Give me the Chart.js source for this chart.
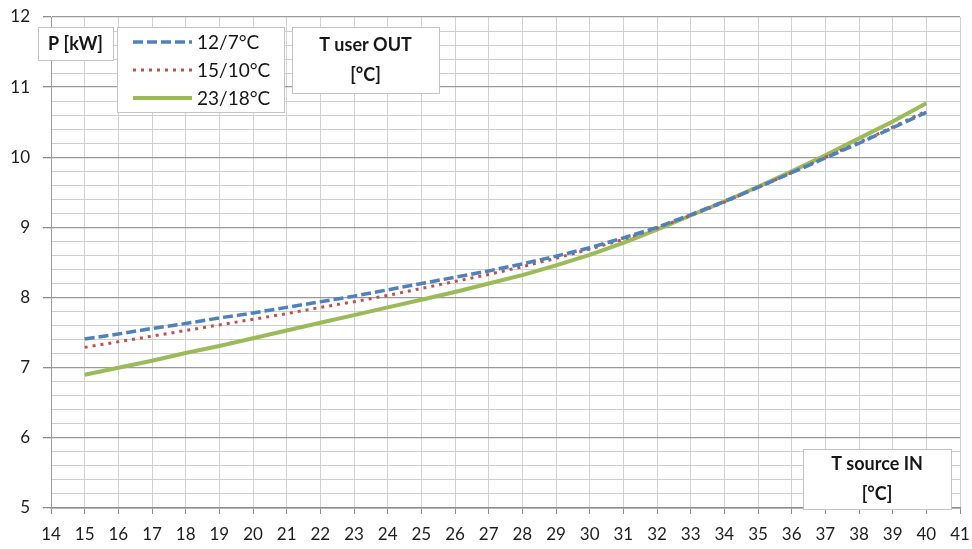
<!DOCTYPE html>
<html>
<head>
<meta charset="utf-8">
<script src="https://cdn.jsdelivr.net/npm/chart.js@4.4.1/dist/chart.umd.min.js"></script>
<style>
  html, body { margin: 0; padding: 0; background: #fff; }
  #wrap { width: 972px; height: 549px; position: relative; }
</style>
</head>
<body>
<div id="wrap"><canvas id="c" width="972" height="549"></canvas></div>
<script>
// ---- data ----
const tSourceIn = [15, 16, 17, 18, 19, 20, 21, 22, 23, 24, 25, 26, 27, 28, 29, 30, 31, 32, 33, 34, 35, 36, 37, 38, 39, 40];
const p12_7  = [7.41, 7.48, 7.56, 7.63, 7.71, 7.78, 7.86, 7.94, 8.02, 8.11, 8.20, 8.29, 8.38, 8.48, 8.59, 8.71, 8.85, 9.00, 9.18, 9.37, 9.57, 9.78, 9.99, 10.20, 10.42, 10.64];
const p15_10 = [7.29, 7.37, 7.45, 7.53, 7.61, 7.69, 7.77, 7.86, 7.94, 8.03, 8.13, 8.23, 8.33, 8.44, 8.56, 8.69, 8.83, 8.99, 9.17, 9.36, 9.57, 9.78, 10.00, 10.21, 10.43, 10.66];
const p23_18 = [6.90, 7.00, 7.10, 7.21, 7.31, 7.42, 7.53, 7.64, 7.75, 7.86, 7.97, 8.08, 8.20, 8.32, 8.46, 8.61, 8.78, 8.97, 9.17, 9.37, 9.58, 9.80, 10.03, 10.27, 10.51, 10.77];
const seriesNames = ['12/7°C', '15/10°C', '23/18°C'];
const yAxisTitle = ['P [kW]'];
const legendTitle = ['T user OUT', '[°C]'];
const xAxisTitle = ['T source IN', '[°C]'];
const xRange = [14, 41];
const yRange = [5, 12];

function pts(ys) { return tSourceIn.map((x, i) => ({ x: x, y: ys[i] })); }

const FONT = 'Lato, "Open Sans", "DejaVu Sans", sans-serif';
Chart.defaults.font.family = FONT;

const isInt = v => Math.abs(v - Math.round(v)) < 1e-6;

function drawBox(ctx, x, y, w, h) {
  ctx.save();
  ctx.fillStyle = '#ffffff';
  ctx.fillRect(x, y, w, h);
  ctx.strokeStyle = '#c4c4c4';
  ctx.lineWidth = 1;
  ctx.strokeRect(Math.round(x) + 0.5, Math.round(y) + 0.5, Math.round(w), Math.round(h));
  ctx.restore();
}

const overlay = {
  id: 'overlay',
  afterDraw(chart) {
    const ctx = chart.ctx;
    const a = chart.chartArea;
    ctx.save();
    // P [kW] box
    drawBox(ctx, a.left - 13, a.top + 10, 75, 33);
    ctx.fillStyle = '#161616';
    ctx.font = 'bold 18px ' + FONT;
    ctx.textAlign = 'center';
    ctx.textBaseline = 'middle';
    ctx.fillText(yAxisTitle[0], a.left - 13 + 37.5, a.top + 27);

    // legend box
    const lx = a.left + 66, ly = a.top + 10;
    drawBox(ctx, lx, ly, 167, 85);
    const rowY = [42, 70, 98].map(v => v - 17 + a.top);
    chart.data.datasets.forEach((ds, i) => {
      ctx.save();
      ctx.strokeStyle = ds.borderColor;
      ctx.lineWidth = ds.borderWidth;
      ctx.setLineDash(ds.borderDash || []);
      ctx.beginPath();
      ctx.moveTo(lx + 16, rowY[i]);
      ctx.lineTo(lx + 75, rowY[i]);
      ctx.stroke();
      ctx.restore();
      ctx.fillStyle = '#161616';
      ctx.font = '19px ' + FONT;
      ctx.textAlign = 'left';
      ctx.textBaseline = 'middle';
      ctx.fillText(ds.label, lx + 80, rowY[i] + 1);
    });

    // T user OUT box
    drawBox(ctx, a.left + 241, a.top + 10, 147, 66);
    ctx.fillStyle = '#161616';
    ctx.font = 'bold 18px ' + FONT;
    ctx.textAlign = 'center';
    ctx.textBaseline = 'middle';
    ctx.fillText(legendTitle[0], a.left + 241 + 73.5, a.top + 28);
    ctx.fillText(legendTitle[1], a.left + 241 + 73.5, a.top + 58);

    // T source IN box
    const bx = a.right - 157, by = a.bottom - 59;
    drawBox(ctx, bx, by, 148, 60);
    ctx.fillStyle = '#161616';
    ctx.font = 'bold 18px ' + FONT;
    ctx.fillText(xAxisTitle[0], bx + 74, by + 15);
    ctx.fillText(xAxisTitle[1], bx + 74, by + 45);
    ctx.restore();
  }
};

new Chart(document.getElementById('c'), {
  type: 'line',
  data: {
    datasets: [
      { label: seriesNames[0], data: pts(p12_7), borderColor: '#4f81bd', borderWidth: 3.5, borderDash: [10, 4], pointRadius: 0, fill: false, tension: 0 },
      { label: seriesNames[1], data: pts(p15_10), borderColor: '#c0504d', borderWidth: 3, borderDash: [3, 5], pointRadius: 0, fill: false, tension: 0 },
      { label: seriesNames[2], data: pts(p23_18), borderColor: '#9bbb59', borderWidth: 4, pointRadius: 0, fill: false, tension: 0 }
    ]
  },
  options: {
    responsive: false,
    animation: false,
    layout: { padding: { top: 17, right: 12, left: 0, bottom: 0 } },
    plugins: { legend: { display: false }, tooltip: { enabled: false }, title: { display: false } },
    scales: {
      x: {
        type: 'linear',
        min: xRange[0], max: xRange[1],
        ticks: { stepSize: 1, color: '#1e1e1e', font: { size: 17 }, padding: 10, maxRotation: 0, autoSkip: false },
        grid: { color: '#d2d2d2', lineWidth: 1, drawTicks: true, tickLength: 6, tickColor: '#8c8c8c' },
        border: { display: true, color: '#8c8c8c', width: 1.5 },
        afterFit(scale) { scale.height = 41; scale.paddingLeft = 0; scale.paddingRight = 0; }
      },
      y: {
        type: 'linear',
        min: yRange[0], max: yRange[1],
        ticks: {
          stepSize: 0.2, color: '#1e1e1e', font: { size: 17 }, padding: 13, autoSkip: false,
          callback: v => isInt(v) ? String(Math.round(v)) : ''
        },
        grid: {
          color: c => isInt(c.tick.value) ? '#9a9a9a' : '#cdcdcd',
          lineWidth: c => isInt(c.tick.value) ? 1.3 : 1,
          drawTicks: true, tickLength: 8,
          tickColor: c => isInt(c.tick.value) ? '#8c8c8c' : 'rgba(0,0,0,0)'
        },
        border: { display: true, color: '#9a9a9a', width: 1 },
        afterFit(scale) { scale.width = 51; scale.paddingTop = 0; scale.paddingBottom = 0; }
      }
    }
  },
  plugins: [overlay]
});
</script>
</body>
</html>
